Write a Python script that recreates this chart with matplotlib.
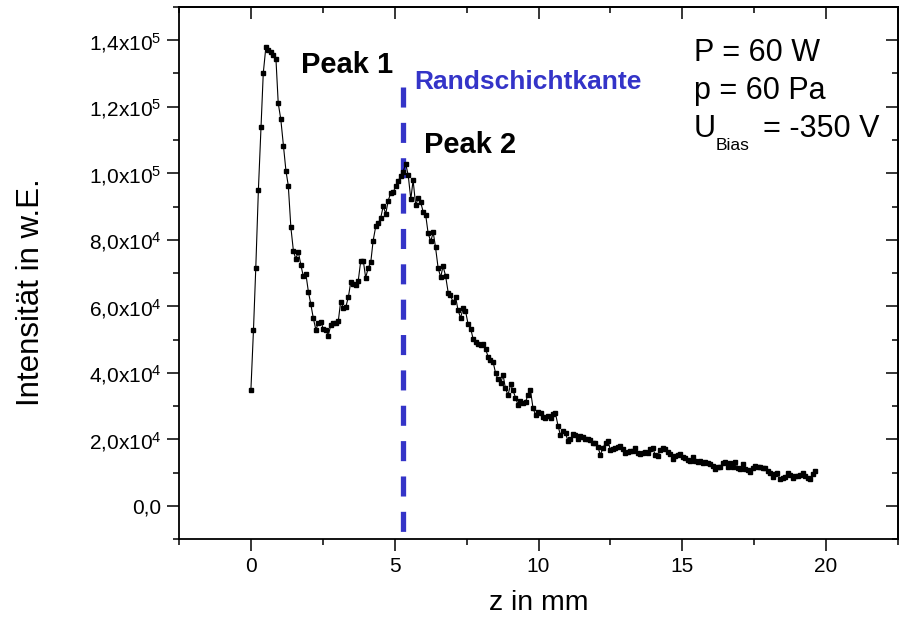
import matplotlib
matplotlib.use("Agg")
import matplotlib.pyplot as plt
from matplotlib.ticker import MultipleLocator, FixedLocator, FixedFormatter

plt.rcParams['font.family'] = ['Liberation Sans', 'DejaVu Sans']
plt.rcParams['mathtext.fontset'] = 'custom'
plt.rcParams['mathtext.rm'] = 'Liberation Sans'
plt.rcParams['mathtext.it'] = 'Liberation Sans:italic'
plt.rcParams['mathtext.bf'] = 'Liberation Sans:bold'

# ---------------- data ----------------
z_mm = [0.00, 0.09, 0.17, 0.26, 0.35, 0.43, 0.52, 0.61, 0.69, 0.78,
        0.87, 0.95, 1.04, 1.13, 1.22, 1.30, 1.39, 1.48, 1.56, 1.65,
        1.74, 1.82, 1.91, 2.00, 2.08, 2.17, 2.26, 2.34, 2.43, 2.52,
        2.60, 2.69, 2.78, 2.86, 2.95, 3.04, 3.12, 3.21, 3.30, 3.39,
        3.47, 3.56, 3.65, 3.73, 3.82, 3.91, 3.99, 4.08, 4.17, 4.25,
        4.34, 4.43, 4.51, 4.60, 4.69, 4.77, 4.86, 4.95, 5.03, 5.12,
        5.21, 5.29, 5.38, 5.47, 5.56, 5.64, 5.73, 5.82, 5.90, 5.99,
        6.08, 6.16, 6.25, 6.34, 6.42, 6.51, 6.60, 6.68, 6.77, 6.86,
        6.94, 7.03, 7.12, 7.20, 7.29, 7.38, 7.46, 7.55, 7.64, 7.73,
        7.81, 7.90, 7.99, 8.07, 8.16, 8.25, 8.33, 8.42, 8.51, 8.59,
        8.68, 8.77, 8.85, 8.94, 9.03, 9.11, 9.20, 9.29, 9.37, 9.46,
        9.55, 9.63, 9.72, 9.81, 9.90, 9.98, 10.07, 10.16, 10.24, 10.33,
        10.42, 10.50, 10.59, 10.68, 10.76, 10.85, 10.94, 11.02, 11.11, 11.20,
        11.28, 11.37, 11.46, 11.54, 11.63, 11.72, 11.80, 11.89, 11.98, 12.07,
        12.15, 12.24, 12.33, 12.41, 12.50, 12.59, 12.67, 12.76, 12.85, 12.93,
        13.02, 13.11, 13.19, 13.28, 13.37, 13.45, 13.54, 13.63, 13.71, 13.80,
        13.89, 13.97, 14.06, 14.15, 14.24, 14.32, 14.41, 14.50, 14.58, 14.67,
        14.76, 14.84, 14.93, 15.02, 15.10, 15.19, 15.28, 15.36, 15.45, 15.54,
        15.62, 15.71, 15.80, 15.88, 15.97, 16.06, 16.14, 16.23, 16.32, 16.41,
        16.49, 16.58, 16.67, 16.75, 16.84, 16.93, 17.01, 17.10, 17.19, 17.27,
        17.36, 17.45, 17.53, 17.62, 17.71, 17.79, 17.88, 17.97, 18.05, 18.14,
        18.23, 18.31, 18.40, 18.49, 18.58, 18.66, 18.75, 18.84, 18.92, 19.01,
        19.10, 19.18, 19.27, 19.36, 19.44, 19.53, 19.62]

intensity = [34800, 53000, 71600, 94900, 113800, 130100, 137900, 137200, 136500, 135500,
             134500, 121100, 116200, 108300, 100600, 96300, 83700, 76500, 74300, 76300,
             72300, 69100, 69800, 64300, 60800, 56400, 52900, 54900, 55300, 53200,
             52900, 51200, 54400, 54900, 55100, 55600, 61400, 59600, 59800, 62800,
             67200, 66700, 66400, 67500, 73700, 73600, 68600, 71500, 73400, 79700,
             84000, 85100, 86400, 90100, 87800, 91600, 94100, 94300, 96100, 97700,
             99100, 100400, 102900, 99400, 92200, 97900, 90400, 92600, 91400, 88400,
             87300, 82100, 79500, 82200, 77700, 71500, 68700, 72100, 69100, 64100,
             63300, 61200, 62700, 58900, 56500, 59400, 58700, 54700, 53300, 50100,
             49200, 48600, 48200, 48500, 47100, 44800, 43800, 43300, 39800, 38100,
             36800, 39300, 35300, 33300, 36500, 34800, 32500, 30300, 31500, 30800,
             31200, 33300, 34800, 29300, 27300, 28100, 27800, 26800, 26300, 27000,
             26300, 27600, 27800, 24000, 21300, 22600, 21800, 19600, 20000, 21500,
             21300, 20000, 21000, 20800, 20000, 20200, 19800, 19000, 18800, 17600,
             15300, 17300, 19000, 19600, 16800, 17000, 17300, 17800, 18000, 17000,
             16000, 16300, 16600, 16500, 17300, 15800, 15600, 16000, 16300, 15800,
             17000, 17300, 15300, 15000, 16800, 17300, 17000, 16300, 15500, 14000,
             15000, 15300, 15500, 14800, 14300, 13800, 13500, 14800, 13500, 13300,
             13600, 13000, 13300, 13000, 12600, 12000, 11000, 11600, 11800, 12800,
             13300, 11800, 12800, 11800, 13300, 11500, 11000, 12600, 11000, 10800,
             10300, 11300, 12100, 11800, 11600, 11300, 11300, 10600, 9800, 8600,
             9500, 9800, 8000, 8300, 8600, 10000, 9300, 8300, 9000, 9000,
             9300, 9800, 9000, 8300, 8000, 9600, 10600]

edge_z = 5.3          # Randschichtkante position (mm)
edge_top = 1.26e5     # upper end of the dashed marker line

x_ticks = [0, 5, 10, 15, 20]
x_tick_labels = ["0", "5", "10", "15", "20"]
y_ticks = [0, 2e4, 4e4, 6e4, 8e4, 1e5, 1.2e5, 1.4e5]
y_tick_labels = ["0,0", "2,0x10$^{4}$", "4,0x10$^{4}$", "6,0x10$^{4}$",
                 "8,0x10$^{4}$", "1,0x10$^{5}$", "1,2x10$^{5}$", "1,4x10$^{5}$"]

# ---------------- figure ----------------
W, H = 904, 620
fig = plt.figure(figsize=(W / 100, H / 100), dpi=100)
ax = fig.add_axes([179 / W, 1 - 539 / H, (898 - 179) / W, (539 - 7) / H])

ax.plot(z_mm, intensity, color='black', linewidth=0.8, marker='s',
        markersize=2.8, markerfacecolor='black', markeredgecolor='black', zorder=3)

ax.plot([edge_z, edge_z], [edge_top, -1e4], color='#3434c8', linewidth=3.8,
        linestyle=(0, (3.8, 2.9)), zorder=2, solid_capstyle='butt')

ax.set_xlim(-2.5, 22.5)
ax.set_ylim(-1e4, 1.5e5)

ax.xaxis.set_major_locator(FixedLocator(x_ticks))
ax.xaxis.set_major_formatter(FixedFormatter(x_tick_labels))
ax.xaxis.set_minor_locator(MultipleLocator(2.5))
ax.yaxis.set_major_locator(FixedLocator(y_ticks))
ax.yaxis.set_major_formatter(FixedFormatter(y_tick_labels))
ax.yaxis.set_minor_locator(MultipleLocator(1e4))

for s in ax.spines.values():
    s.set_linewidth(1.3)

ax.tick_params(which='both', direction='out', top=False, right=False, width=1.1,
               labelsize=15)
ax.tick_params(which='major', length=8.6)
ax.tick_params(which='minor', length=4.3)
ax.tick_params(axis='x', which='major', pad=4)
ax.tick_params(axis='y', which='major', pad=4)

# inward ticks on top and right
axt = ax.secondary_xaxis('top')
axt.xaxis.set_major_locator(FixedLocator(x_ticks))
axt.xaxis.set_minor_locator(MultipleLocator(2.5))
axt.tick_params(which='both', direction='in', labeltop=False, width=1.1)
axt.tick_params(which='major', length=8.6)
axt.tick_params(which='minor', length=4.3)
axr = ax.secondary_yaxis('right')
axr.yaxis.set_major_locator(FixedLocator(y_ticks))
axr.yaxis.set_minor_locator(MultipleLocator(1e4))
axr.tick_params(which='both', direction='in', labelright=False, width=1.1)
axr.tick_params(which='major', length=8.6)
axr.tick_params(which='minor', length=4.3)
for sa in (axt, axr):
    for s in sa.spines.values():
        s.set_linewidth(1.3)

ax.set_xlabel("z in mm", fontsize=20.5)
ax.xaxis.set_label_coords(0.5, (539 - 603) / 532)
ax.xaxis.label.set_va('center')
ax.set_ylabel("Intensität in w.E.", fontsize=22.5)
ax.yaxis.set_label_coords((31 - 179) / 719, 1 - (292.5 - 7) / 532)
ax.yaxis.label.set_va('center')

# annotations
ax.text(1.74, 1.301e5, "Peak 1", fontsize=21, fontweight='bold', ha='left', va='baseline')
ax.text(6.02, 1.06e5, "Peak 2", fontsize=21, fontweight='bold', ha='left', va='baseline')
ax.text(5.67, 1.254e5, "Randschichtkante", fontsize=19, fontweight='bold',
        color='#3434c8', ha='left', va='baseline')
ax.text(15.41, 1.337e5, "P = 60 W", fontsize=22, ha='left', va='baseline')
ax.text(15.41, 1.224e5, "p = 60 Pa", fontsize=22, ha='left', va='baseline')
ax.text(15.41, 1.109e5, "U", fontsize=22, ha='left', va='baseline')
ax.text(16.17, 1.069e5, "Bias", fontsize=12.5, ha='left', va='baseline')
ax.text(17.79, 1.109e5, "= -350 V", fontsize=22, ha='left', va='baseline')

fig.savefig("out.png", dpi=100)
